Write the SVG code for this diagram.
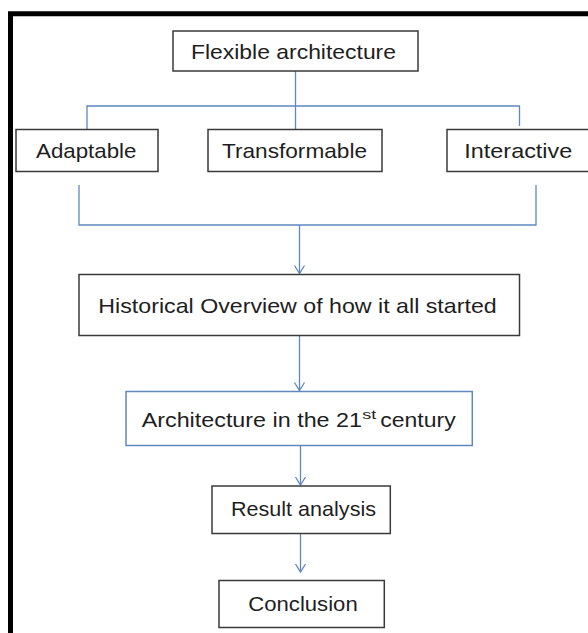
<svg xmlns="http://www.w3.org/2000/svg" width="588" height="633" viewBox="0 0 588 633">
<defs>
<style>
.box{fill:#fff;stroke:#3a3a3a;stroke-width:1.5}
.bbox{fill:#fff;stroke:#5f88bf;stroke-width:1.5}
.lbl{font-family:"Liberation Sans",Arial,sans-serif;font-size:21px;fill:#1e1e1e}
.sup{font-family:"Liberation Sans",Arial,sans-serif;font-size:13px;fill:#1e1e1e}
.con{fill:none;stroke:#5f88bf;stroke-width:1.3}
</style>
<marker id="arr" markerUnits="userSpaceOnUse" markerWidth="14" markerHeight="14" viewBox="0 0 14 14" refX="11" refY="7" orient="auto">
<path d="M3,2 L11,7 L3,12" fill="none" stroke="#5f88bf" stroke-width="1.3"/>
</marker>
</defs>
<rect width="588" height="633" fill="#fff"/>
<rect x="10.5" y="13.75" width="600" height="640" fill="none" stroke="#000" stroke-width="5"/>
<g id="connectors">
<path class="con" d="M295.5,71 V129"/>
<path class="con" d="M87,129 V106 H519.5 V126"/>
<path class="con" d="M79,185 V225 H536 V185"/>
<path class="con" d="M299.5,225 V273.5" marker-end="url(#arr)"/>
<path class="con" d="M299.5,335.5 V390.5" marker-end="url(#arr)"/>
<path class="con" d="M300.5,446 V485" marker-end="url(#arr)"/>
<path class="con" d="M300.5,533.5 V572" marker-end="url(#arr)"/>
</g>
<g id="flexible">
<rect class="box" x="173" y="31" width="245" height="40"/>
<text class="lbl" x="191" y="59" textLength="205" lengthAdjust="spacingAndGlyphs">Flexible architecture</text>
</g>
<g id="adaptable">
<rect class="box" x="16" y="129.5" width="142" height="42"/>
<text class="lbl" x="36" y="157.5" textLength="100.5" lengthAdjust="spacingAndGlyphs">Adaptable</text>
</g>
<g id="transformable">
<rect class="box" x="208" y="129.5" width="174" height="42"/>
<text class="lbl" x="222" y="157.5" textLength="145" lengthAdjust="spacingAndGlyphs">Transformable</text>
</g>
<g id="interactive">
<rect class="box" x="447" y="129.5" width="160" height="42"/>
<text class="lbl" x="464.3" y="157.5" textLength="108" lengthAdjust="spacingAndGlyphs">Interactive</text>
</g>
<g id="historical">
<rect class="box" x="79" y="274.5" width="440.5" height="61"/>
<text class="lbl" x="98.3" y="312.5" textLength="398.4" lengthAdjust="spacingAndGlyphs">Historical Overview  of how it all started</text>
</g>
<g id="architecture21">
<rect class="bbox" x="126" y="391.5" width="346.3" height="54"/>
<text class="lbl" x="141.7" y="426.7" textLength="220.3" lengthAdjust="spacingAndGlyphs">Architecture in the 21</text>
<text class="sup" x="362.3" y="418.5" textLength="14" lengthAdjust="spacingAndGlyphs">st</text>
<text class="lbl" x="380.3" y="426.7" textLength="75.4" lengthAdjust="spacingAndGlyphs">century</text>
</g>
<g id="result">
<rect class="box" x="212" y="486" width="178.3" height="47.5"/>
<text class="lbl" x="231" y="516" textLength="145" lengthAdjust="spacingAndGlyphs">Result analysis</text>
</g>
<g id="conclusion">
<rect class="box" x="219" y="580.5" width="165.3" height="47"/>
<text class="lbl" x="248.3" y="611" textLength="109.4" lengthAdjust="spacingAndGlyphs">Conclusion</text>
</g>
</svg>
